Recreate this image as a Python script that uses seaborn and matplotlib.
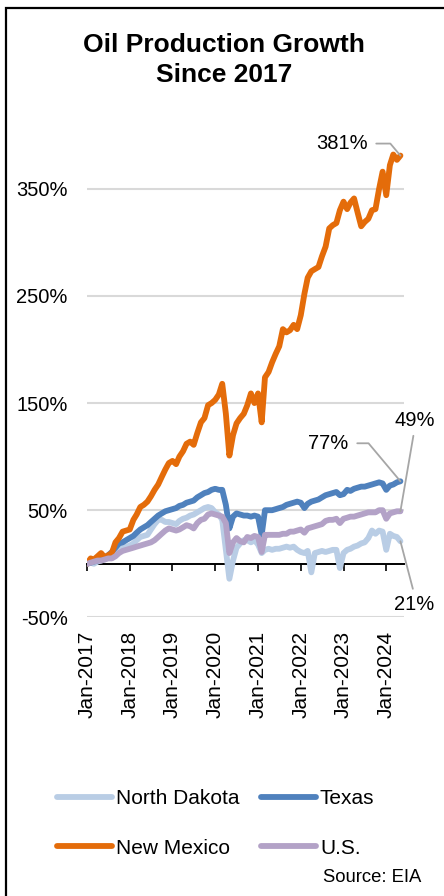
import pandas as pd
import matplotlib.pyplot as plt
from matplotlib.patches import Rectangle
import seaborn as sns

# monthly growth vs Jan-2017 (%), Jan-2017 .. May-2024
months = pd.date_range("2017-01-01", periods=89, freq="MS")

north_dakota = [0, 1, 0, 2, 3, 4, 6, 7, 10, 13, 15, 16,
                17, 19, 22, 25, 26, 27, 32, 37, 41, 41, 39, 39,
                38, 37, 40, 42, 43, 45, 46, 48, 50, 52, 53, 52,
                48, 46, 41, 13, -14, 3, 15, 19, 22, 22, 20, 22,
                18, 10, 13, 14, 13, 14, 14, 15, 16, 15, 16, 13,
                11, 10, 12, -8, 10, 11, 12, 11, 12, 13, 13, -4,
                10, 13, 14, 16, 17, 19, 20, 24, 31, 28, 31, 30,
                13, 28, 26, 25, 21]
texas = [0, 1, 2, 3, 5, 6, 8, 11, 15, 19, 20, 22,
         24, 26, 29, 32, 34, 36, 39, 42, 45, 47, 49, 50,
         51, 52, 54, 55, 57, 58, 59, 62, 64, 66, 67, 69,
         70, 69, 69, 55, 33, 44, 47, 46, 45, 45, 44, 45,
         44, 27, 50, 50, 50, 51, 52, 53, 55, 56, 57, 58,
         57, 52, 56, 58, 59, 60, 62, 64, 65, 66, 67, 64,
         65, 69, 68, 70, 71, 72, 72, 73, 74, 75, 76, 75,
         69, 73, 74, 76, 77]
new_mexico = [0, 5, 4, 7, 10, 6, 8, 10, 20, 24, 30, 31,
              32, 41, 46, 53, 55, 58, 63, 69, 74, 81, 88, 94,
              96, 93, 100, 105, 112, 114, 111, 122, 132, 136, 148, 150,
              153, 158, 168, 140, 101, 120, 131, 136, 140, 148, 159, 150,
              159, 132, 174, 179, 188, 196, 203, 219, 216, 218, 223, 219,
              232, 252, 267, 273, 275, 277, 287, 296, 313, 316, 318, 330,
              338, 331, 337, 341, 328, 315, 319, 322, 330, 331, 350, 366,
              344, 372, 382, 377, 381]
us_total = [0, 1, 2, 3, 3, 4, 5, 5, 7, 10, 12, 13,
            14, 15, 16, 17, 18, 19, 20, 22, 25, 28, 31, 33,
            32, 31, 32, 34, 36, 35, 33, 38, 41, 42, 46, 47,
            46, 45, 44, 38, 10, 20, 24, 21, 20, 25, 24, 26,
            25, 11, 27, 27, 27, 27, 27, 28, 28, 30, 30, 31,
            32, 29, 33, 34, 35, 36, 37, 40, 41, 41, 42, 38,
            42, 43, 44, 44, 45, 46, 47, 48, 48, 48, 50, 50,
            42, 47, 48, 49, 49]

states = ["North Dakota", "Texas", "New Mexico", "U.S."]
colors = ["#b9cde5", "#4f81bd", "#e46c0a", "#b3a2c7"]
year_ticks = pd.date_range("2017-01-01", "2024-01-01", freq="YS")
year_labels = [f"Jan-{d.year}" for d in year_ticks]

df = pd.DataFrame({"date": list(months) * 4,
                   "growth": north_dakota + texas + new_mexico + us_total,
                   "state": [s for s in states for _ in months]})

sns.set_theme(style="white")
plt.rcParams["font.family"] = ["Liberation Sans", "DejaVu Sans"]
plt.rcParams["text.color"] = "black"

fig = plt.figure(figsize=(4.44, 8.96), dpi=100)
ax = fig.add_axes([0.196, 0.311, 0.714, 0.562])

sns.lineplot(data=df, x="date", y="growth", hue="state", hue_order=states,
             palette=colors, linewidth=4.2, ax=ax, zorder=3)

ax.set_ylim(-50, 420)
ax.set_yticks(range(-50, 351, 100))
ax.set_yticklabels([f"{v}%" for v in range(-50, 351, 100)])
ax.set_xlim(pd.Timestamp("2017-01-01"), pd.Timestamp("2024-06-01"))
ax.set_xlabel("")
ax.set_ylabel("")
ax.set_axisbelow(True)
ax.yaxis.grid(True, color="#d9d9d9", linewidth=1.5)
ax.xaxis.grid(False)
for s in ["top", "right", "left"]:
    ax.spines[s].set_visible(False)
ax.spines["bottom"].set_position(("data", 0))
ax.spines["bottom"].set_color("black")
ax.spines["bottom"].set_linewidth(1.4)
ax.spines["bottom"].set_zorder(1)

ax.set_xticks(year_ticks)
ax.tick_params(axis="x", direction="out", length=5, width=1.2, color="black",
               bottom=True, labelbottom=False)
ax.tick_params(axis="y", length=0, pad=14, labelsize=14.5, colors="black")

# tick labels sit under the plot area, marks stay on the zero line
sec = ax.secondary_xaxis("bottom")
sec.set_xticks(year_ticks, labels=year_labels, rotation=90)
sec.tick_params(length=0, pad=10, labelsize=15, colors="black")
sec.spines["bottom"].set_visible(False)

# end-point labels
lead = dict(arrowstyle="-", color="#a6a6a6", lw=1.3)
ends = {"New Mexico": new_mexico[-1], "Texas": texas[-1],
        "U.S.": us_total[-1], "North Dakota": north_dakota[-1]}
ax.annotate(f"{ends['New Mexico']}%", xy=(months[-1], ends["New Mexico"]),
            xytext=(-33, 12), textcoords="offset pixels", ha="right", va="center",
            fontsize=14.5, annotation_clip=False,
            arrowprops=dict(lead, relpos=(1, 0.5), shrinkA=4, shrinkB=0,
                            connectionstyle="angle,angleA=0,angleB=130,rad=0"))
ax.annotate(f"{ends['Texas']}%", xy=(months[-1], ends["Texas"]),
            xytext=(-52, 38), textcoords="offset pixels", ha="right", va="center",
            fontsize=14.5, annotation_clip=False,
            arrowprops=dict(lead, relpos=(1, 0.5), shrinkA=4, shrinkB=0,
                            connectionstyle="angle,angleA=0,angleB=130,rad=0"))
ax.annotate(f"{ends['U.S.']}%", xy=(months[-1], ends["U.S."]),
            xytext=(14, 91), textcoords="offset pixels", ha="center", va="center",
            fontsize=14.5, annotation_clip=False,
            arrowprops=dict(lead, relpos=(0.5, 0), shrinkA=2, shrinkB=0))
ax.annotate(f"{ends['North Dakota']}%", xy=(months[-1], ends["North Dakota"]),
            xytext=(14, -63), textcoords="offset pixels", ha="center", va="center",
            fontsize=14.5, annotation_clip=False,
            arrowprops=dict(lead, relpos=(0.5, 1), shrinkA=2, shrinkB=0))

handles, labels = ax.get_legend_handles_labels()
ax.get_legend().remove()
# row-wise order: ND, Texas / New Mexico, U.S.
order = [0, 2, 1, 3]
leg = fig.legend([handles[i] for i in order], [labels[i] for i in order],
                 ncol=2, loc="upper left",
                 bbox_to_anchor=(0.128, 0.119), frameon=False, fontsize=15,
                 handlelength=2.65, handletextpad=0.2, columnspacing=1.0,
                 labelspacing=1.45, borderpad=0, borderaxespad=0)
for h in leg.get_lines():
    h.set_linewidth(4.2)

fig.text(0.505, 0.9335, "Oil Production Growth\nSince 2017", ha="center",
         va="center", fontsize=19, fontweight="bold", linespacing=1.32)
fig.text(0.95, 0.021, "Source: EIA", ha="right", va="center", fontsize=13.3)

fig.patches.append(Rectangle((5.5 / 444, -0.1), 1.2, 1.1 - 8.5 / 896,
                             transform=fig.transFigure, fill=False,
                             edgecolor="black", linewidth=1.6, clip_on=False))

fig.savefig("out.png", dpi=100)
